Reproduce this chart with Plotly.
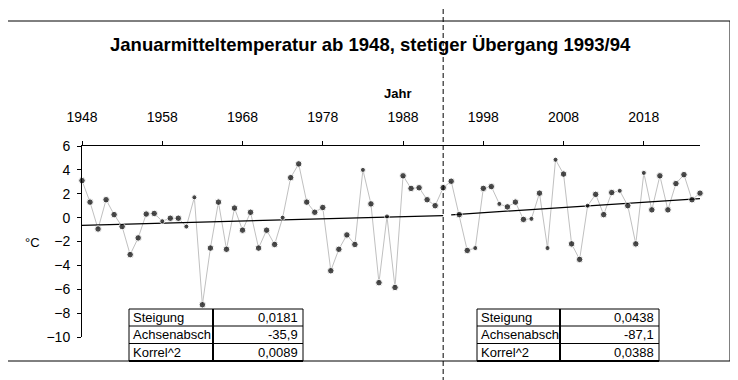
import plotly.graph_objects as go

# ---------------- data ----------------
years = list(range(1948, 2026))
temps = [3.1, 1.3, -0.95, 1.5, 0.25, -0.75, -3.1, -1.7, 0.3, 0.35,
         -0.3, -0.05, -0.05, -0.75, 1.7, -7.3, -2.55, 1.3, -2.65, 0.8,
         -1.05, 0.45, -2.55, -1.05, -2.25, 0.0, 3.35, 4.5, 1.3, 0.45,
         0.85, -4.45, -2.65, -1.45, -2.25, 4.0, 1.15, -5.45, 0.1, -5.85,
         3.5, 2.45, 2.5, 1.5, 1.0, 2.5, 3.05, 0.25, -2.75, -2.55,
         2.45, 2.6, 1.15, 0.9, 1.3, -0.15, -0.1, 2.05, -2.55, 4.85,
         3.65, -2.2, -3.5, 1.0, 1.95, 0.25, 2.1, 2.25, 1.0, -2.2,
         3.75, 0.65, 3.5, 0.65, 2.85, 3.6, 1.5, 2.05]

x_ticks = [1948, 1958, 1968, 1978, 1988, 1998, 2008, 2018]
y_ticks = [-10, -8, -6, -4, -2, 0, 2, 4, 6]

# regression segments (table values)
seg1_years = [1948, 1993]
seg1_slope, seg1_icpt, seg1_r2 = 0.0181, -35.9, 0.0089
seg2_years = [1994, 2025]
seg2_slope, seg2_icpt, seg2_r2 = 0.0438, -87.1, 0.0388
break_year = 1993

table_labels = ["Steigung", "Achsenabsch", "Korrel^2"]
table1_values = ["0,0181", "-35,9", "0,0089"]
table2_values = ["0,0438", "-87,1", "0,0388"]

small_marker_years = {1958, 1961, 1962, 1973, 1983, 1986, 1997, 2000, 2004,
                      2006, 2007, 2011, 2015, 2018}

title = "Januarmitteltemperatur ab 1948, stetiger Übergang 1993/94"

# ---------------- geometry helpers ----------------
# the page body has an 8px margin, so the figure is drawn 8px smaller
OFF = 8
W, H = 738 - OFF, 380 - OFF
PL, PR, PT, PB = 82, 700, 146, 337          # plot area in screen pixels
ML, MR, MT, MB = PL - OFF, W - (PR - OFF), PT - OFF, H - (PB - OFF)
PW, PH = PR - PL, PB - PT


def px(x):
    return (x - PL) / PW


def py(y):
    return (PB - y) / PH


FONT = "Liberation Sans"

fig = go.Figure()

fig.add_trace(go.Scatter(x=years, y=temps, mode="lines",
                         line=dict(color="#c0c0c0", width=1),
                         cliponaxis=False, hoverinfo="skip", showlegend=False))

for yrs, s, c in [(seg1_years, seg1_slope, seg1_icpt),
                  (seg2_years, seg2_slope, seg2_icpt)]:
    fig.add_trace(go.Scatter(x=yrs, y=[s * v + c for v in yrs], mode="lines",
                             line=dict(color="black", width=1.3),
                             showlegend=False, hoverinfo="skip"))

sizes = [5 if y in small_marker_years else 6.5 for y in years]
fig.add_trace(go.Scatter(x=years, y=temps, mode="markers",
                         marker=dict(color="black", size=sizes),
                         cliponaxis=False, showlegend=False))

shapes = []
# outer frame
shapes.append(dict(type="rect", xref="paper", yref="paper",
                   x0=px(6), x1=px(730), y0=py(361), y1=py(21),
                   line=dict(color="black", width=1)))
# page-break dashed line
shapes.append(dict(type="line", xref="x", yref="paper",
                   x0=break_year, x1=break_year, y0=py(382), y1=py(-2),
                   line=dict(color="black", width=1, dash="5px,3px")))

annotations = []


def add_table(x0, xm, x1, values):
    rows = [309, 326, 343.5, 361]
    shapes.append(dict(type="rect", xref="paper", yref="paper",
                       x0=px(x0), x1=px(x1), y0=py(rows[-1]), y1=py(rows[0]),
                       line=dict(color="black", width=1),
                       fillcolor="white", layer="above"))
    for r in rows[1:3]:
        shapes.append(dict(type="line", xref="paper", yref="paper",
                           x0=px(x0), x1=px(x1), y0=py(r), y1=py(r),
                           line=dict(color="black", width=1)))
    shapes.append(dict(type="line", xref="paper", yref="paper",
                       x0=px(xm), x1=px(xm), y0=py(rows[-1]), y1=py(rows[0]),
                       line=dict(color="black", width=2)))
    shapes.append(dict(type="line", xref="paper", yref="paper",
                       x0=px(x0), x1=px(x1), y0=py(rows[-1]), y1=py(rows[-1]),
                       line=dict(color="black", width=2)))
    for i, (lab, val) in enumerate(zip(table_labels, values)):
        yc = (rows[i] + rows[i + 1]) / 2
        annotations.append(dict(x=px(x0 + 2), y=py(yc), xref="paper", yref="paper",
                                text=lab, showarrow=False, xanchor="left",
                                yanchor="middle",
                                font=dict(family=FONT, size=13, color="black")))
        annotations.append(dict(x=px(x1 - 3), y=py(yc), xref="paper", yref="paper",
                                text=val, showarrow=False, xanchor="right",
                                yanchor="middle",
                                font=dict(family=FONT, size=13, color="black")))


add_table(129, 213, 303, table1_values)
add_table(477, 560, 659, table2_values)

annotations.append(dict(x=px(370), y=py(45), xref="paper", yref="paper",
                        text="<b>" + title + "</b>", showarrow=False,
                        xanchor="center", yanchor="middle",
                        font=dict(family=FONT, size=18.5, color="black")))
annotations.append(dict(x=px(397), y=py(93), xref="paper", yref="paper",
                        text="<b>Jahr</b>", showarrow=False,
                        xanchor="center", yanchor="middle",
                        font=dict(family=FONT, size=13, color="black")))
annotations.append(dict(x=px(32), y=py(242), xref="paper", yref="paper",
                        text="°C", showarrow=False,
                        xanchor="center", yanchor="middle",
                        font=dict(family=FONT, size=13, color="black")))

fig.update_layout(
    width=W, height=H,
    margin=dict(l=ML, r=MR, t=MT, b=MB, pad=0),
    paper_bgcolor="white", plot_bgcolor="white",
    shapes=shapes, annotations=annotations,
    xaxis=dict(range=[1948, 2025], side="top", tickvals=x_ticks,
               ticks="outside", ticklen=4, tickcolor="black",
               showline=True, linecolor="black", linewidth=1,
               showgrid=False, zeroline=False, ticklabelstandoff=13,
               tickfont=dict(family=FONT, size=14, color="black")),
    yaxis=dict(range=[-10, 6], tickvals=y_ticks,
               ticks="outside", ticklen=4, tickcolor="black",
               showline=True, linecolor="black", linewidth=1,
               showgrid=False, zeroline=False, ticklabelstandoff=4,
               tickfont=dict(family=FONT, size=14, color="black")),
)

fig.write_html("out.html")
